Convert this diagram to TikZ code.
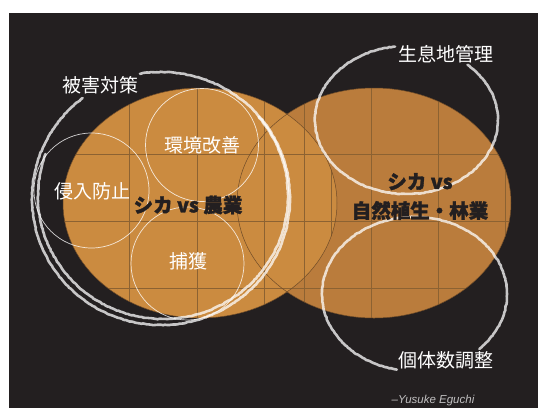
\documentclass[tikz,border=0pt]{standalone}
\usepackage{fontspec}
\newfontfamily\jp{Noto Sans CJK JP}[BoldFeatures={FakeBold=1.6}]
\setsansfont{Liberation Sans}
\usetikzlibrary{decorations.pathmorphing}
\definecolor{bund}{RGB}{35,31,32}
\definecolor{agerfarve}{RGB}{203,139,64}
\definecolor{skovfarve}{RGB}{186,124,60}
\definecolor{gitter}{RGB}{140,98,50}
\definecolor{kant}{RGB}{112,76,40}

\begin{document}
\begin{tikzpicture}[x=1pt,y=-1pt,
  kridt/.style={white,opacity=0.75,line width=2.6pt,line cap=round,decorate,decoration={random steps,segment length=2pt,amplitude=0.35pt}},
  tynd/.style={white,opacity=0.8,line width=0.7pt},
  hvid/.style={white,font=\jp\fontsize{19}{19}\selectfont,inner sep=0pt},
  sort/.style={bund,font=\jp\bfseries\fontsize{19.5}{29}\selectfont,align=center,inner sep=0pt}]

	\useasboundingbox (0,0) rectangle (538,408);
	\fill[white] (0,0) rectangle (538,408);
	\fill[bund] (9,13) rectangle (538,408);

  %ellipser
	\fill[skovfarve] (374,203) ellipse [x radius=137,y radius=115];
	\fill[agerfarve] (200,203) ellipse [x radius=137,y radius=115];

  %gitter
	\begin{scope}
		\clip (374,203) ellipse [x radius=137,y radius=115];
		\foreach \x in {304,371,438,505} \draw[gitter,line width=0.8pt] (\x,80) -- (\x,330);
		\foreach \y in {154,221,288} \draw[gitter,line width=0.8pt] (230,\y) -- (520,\y);
	\end{scope}
	\begin{scope}
		\clip (200,203) ellipse [x radius=137,y radius=115];
		\foreach \x in {129,197,264,331} \draw[gitter,line width=0.8pt] (\x,80) -- (\x,330);
		\foreach \y in {154,221,288} \draw[gitter,line width=0.8pt] (55,\y) -- (345,\y);
	\end{scope}
	\draw[kant,line width=0.5pt] (374,203) ellipse [x radius=137,y radius=115];
	\draw[kant,line width=0.5pt] (200,203) ellipse [x radius=137,y radius=115];

  %tynde cirkler
	\draw[tynd] (91.5,190.5) circle [radius=57.5];
	\draw[tynd] (202,145) circle [radius=56.5];
	\draw[tynd] (187.5,263.5) circle [radius=56.5];

  %kridt
	\draw[kridt] (161,198.5) ++(232.6:129 and 126.5) arc [start angle=232.6,end angle=-99.4,x radius=129,y radius=126.5];
	\draw[kridt] (163,196) ++(200:125 and 123) arc [start angle=200,end angle=-40,x radius=125,y radius=123];
	\draw[kridt] (406.5,120) ++(262.8:91.5 and 74) arc [start angle=262.8,end angle=-48.2,x radius=91.5,y radius=74];
	\draw[kridt] (414.5,294) ++(101:92.5 and 77) arc [start angle=101,end angle=405.5,x radius=92.5,y radius=77];

  %tekst
	\node[hvid] (skade) at (100,85) {被害対策};
	\node[hvid] (habitat) at (446,54.5) {生息地管理};
	\node[hvid] (bestand) at (446,360) {個体数調整};
	\node[hvid] (miljo) at (202,145) {環境改善};
	\node[hvid] (hegn) at (92,191) {侵入防止};
	\node[hvid] (fangst) at (188,261) {捕獲};
	\node[sort] (ager) at (188,205) {シカ vs 農業};
	\node[sort] (skov) at (420,196.5) {シカ vs\\自然植生・林業};
	\node[anchor=base,text=white!72!bund,font=\sffamily\itshape\fontsize{11.5}{12}\selectfont] (kilde) at (433,403.5) {–Yusuke Eguchi};

\end{tikzpicture}
\end{document}
